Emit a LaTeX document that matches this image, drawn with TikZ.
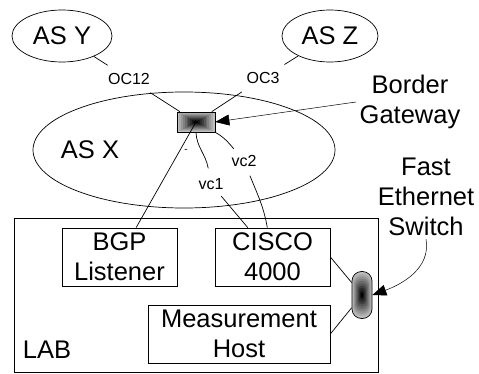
\documentclass[tikz,border=0pt]{standalone}
\usepackage{fontspec}
\setmainfont{Liberation Sans}
\usetikzlibrary{shapes.geometric,arrows.meta}

\tikzset{
  bigtext/.style={font=\fontsize{25.5}{30}\selectfont, align=center},
  linklabel/.style={font=\fontsize{16}{19}\selectfont, circle, inner sep=0pt},
  asnode/.style={draw, ellipse, inner sep=0pt, bigtext},
  hostbox/.style={draw, rectangle, bigtext, minimum height=58pt, inner sep=0pt},
  pointer/.style={line width=0.5pt, -{Triangle[length=14pt,width=11pt]}}
}

\begin{document}
\begin{tikzpicture}[x=1pt,y=1pt,line width=0.7pt]
\useasboundingbox (0,0) rectangle (479,373);

\def \gx {196}
\def \gy {251}
\def \sx {362}
\def \sy {78}

\node[asnode, minimum width=100pt, minimum height=52pt] (asy) at (62,337) {AS Y};
\node[asnode, minimum width=96pt, minimum height=52pt] (asz) at (330,337) {AS Z};
\node[ellipse, draw, minimum width=302pt, minimum height=116pt] (asx) at (184,223) {};
\node[bigtext] (asxtext) at (90,223) {AS X};

\node[draw, minimum width=364pt, minimum height=154pt] (lab) at (196,78) {};
\node[bigtext] (labtext) at (47,23) {LAB};

\node[hostbox, minimum width=115pt] (bgp) at (119.5,116) {BGP\\Listener};
\node[hostbox, minimum width=115pt] (cisco) at (272.5,116) {CISCO\\4000};
\node[hostbox, minimum width=182pt] (meas) at (239,39) {Measurement\\Host};

\foreach \i in {0,...,9}{
	\pgfmathsetmacro{\f}{1-\i/10}
	\pgfmathtruncatemacro{\c}{25+75*\i/9}
	\fill[black!\c] (\gx-19*\f,\gy-10*\f) rectangle (\gx+19*\f,\gy+10*\f);
}
\node[draw, minimum width=38pt, minimum height=20pt, inner sep=0pt] (gw) at (\gx,\gy) {};

\foreach \i in {0,...,9}{
	\pgfmathsetmacro{\f}{1-\i/10}
	\pgfmathsetmacro{\r}{9.5*\f}
	\pgfmathtruncatemacro{\c}{25+75*\i/9}
	\fill[black!\c, rounded corners=\r pt] (\sx-10*\f,\sy-23.5*\f) rectangle (\sx+10*\f,\sy+23.5*\f);
}
\node[draw, rounded corners=9.5pt, minimum width=20pt, minimum height=47pt, inner sep=0pt] (sw) at (\sx,\sy) {};

\node[linklabel, minimum size=50pt] (oc12) at (129,294) {OC12};
\node[linklabel, minimum size=50pt] (oc3) at (263,295) {OC3};
\node[linklabel, minimum size=31pt] (vc1) at (211,189) {vc1};
\node[linklabel, minimum size=31pt] (vc2) at (244,212) {vc2};
\node[font=\fontsize{10}{12}\selectfont, inner sep=0pt] (dash) at (186,222) {-};

\node[bigtext] (gwtext) at (410,271) {Border\\Gateway};
\node[bigtext] (swtext) at (426,176.5) {Fast\\Ethernet\\Switch};

\draw (asy) -- (oc12) -- (gw);
\draw (asz) -- (oc3) -- (gw);
\draw (bgp) -- (gw.center);
\draw (gw.south) to[out=-88, in=100] (vc1);
\draw (vc1) -- (cisco);
\draw (gw.south east) to[out=-30, in=130] (vc2);
\draw (vc2) to[out=-68, in=100] (cisco);
\draw (cisco.east) -- (sw);
\draw (meas.east) -- (sw);

\draw[pointer] (gwtext.west) -- (gw.east);
\draw[pointer] (swtext.south) to[out=-80, in=20] (sw.east);

\end{tikzpicture}
\end{document}
